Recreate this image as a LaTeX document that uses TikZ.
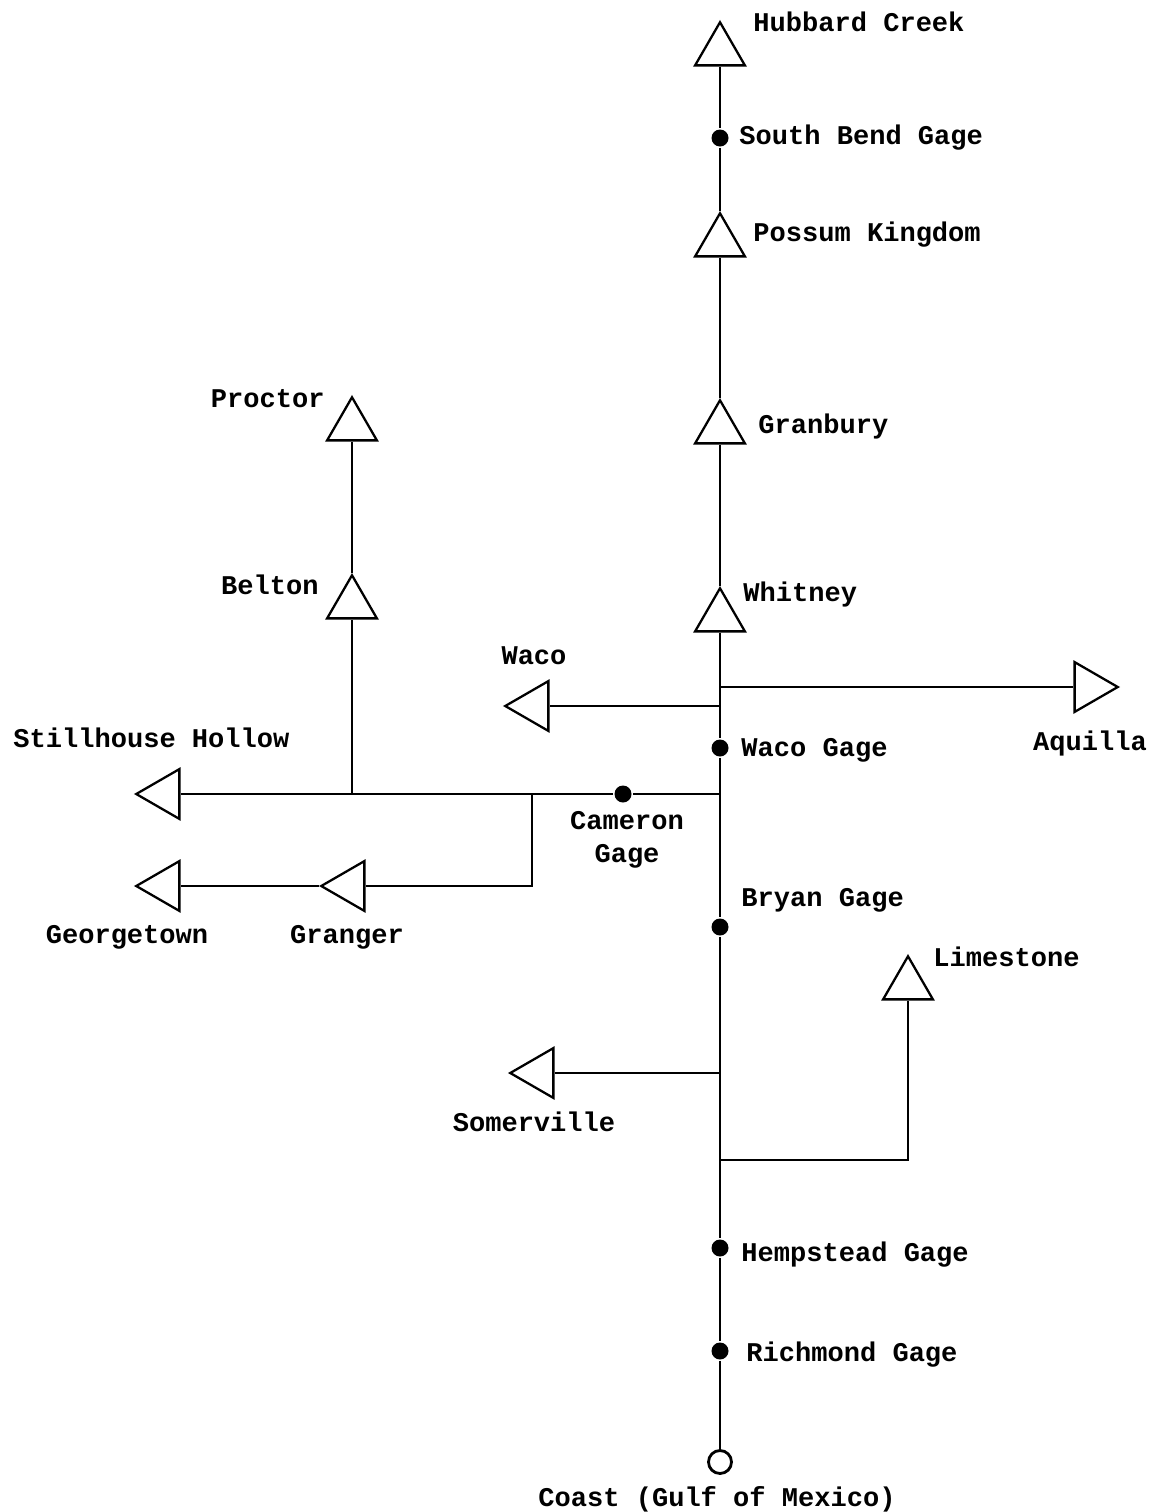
\documentclass[tikz,border=0pt]{standalone}
\usepackage{fontspec}
\setmonofont{Liberation Mono}
\usetikzlibrary{shapes.geometric,positioning}

\begin{document}
\begin{tikzpicture}[x=0.02cm, y=-0.02cm,
    font=\ttfamily\bfseries\fontsize{15.4pt}{20pt}\selectfont,
    line width=1.6pt,
    reservoir/.style={regular polygon, regular polygon sides=3, draw,
      fill=white, inner sep=0pt, minimum size=1.15cm, line width=1.3pt},
    gage/.style={circle, fill=black, inner sep=0pt, minimum size=0.34cm},
    outlet/.style={circle, draw, fill=white, inner sep=0pt, minimum size=0.46cm},
    lbl/.style={inner sep=0pt, text height=0.6em, text depth=0pt}]
  \useasboundingbox (0,0) rectangle (1158,1512);

  %% Brazos main stem
  \node[reservoir] (hubbard) at (720,51)  {};
  \node[gage]      (southbend) at (720,138) {};
  \node[reservoir] (possum)  at (720,242) {};
  \node[reservoir] (granbury) at (720,429) {};
  \node[reservoir] (whitney) at (720,617) {};
  \node[gage]      (wacog)   at (720,748) {};
  \node[gage]      (bryan)   at (720,927) {};
  \node[gage]      (hempstead) at (720,1248) {};
  \node[gage]      (richmond) at (720,1351) {};
  \node[outlet]    (coast)   at (720,1462) {};

  %% Junctions on the main stem
  \coordinate (jaquilla) at (720,687);
  \coordinate (jwaco)    at (720,706);
  \coordinate (jlittle)  at (720,794);
  \coordinate (jsomer)   at (720,1073);
  \coordinate (jlime)    at (720,1160);

  %% Tributary reservoirs
  \node[reservoir, rotate=-90] (aquilla) at (1089,687) {};
  \node[reservoir, rotate=90]  (waco)    at (534,706)  {};
  \node[reservoir, rotate=90]  (still)   at (165,794)  {};
  \node[reservoir, rotate=90]  (granger) at (350,886)  {};
  \node[reservoir, rotate=90]  (george)  at (165,886)  {};
  \node[reservoir, rotate=90]  (somer)   at (539,1073) {};
  \node[reservoir] (belton)  at (352,604) {};
  \node[reservoir] (proctor) at (352,426) {};
  \node[reservoir] (lime)    at (908,985) {};
  \node[gage]      (cameron) at (623,794) {};
  \coordinate (jbelton)  at (352,794);
  \coordinate (jgranger) at (532,794);

  %% Connectors
  \draw (hubbard) -- (southbend) -- (possum) -- (granbury) -- (whitney)
        -- (wacog) -- (bryan) -- (hempstead) -- (richmond) -- (coast);
  \draw (jaquilla) -- (aquilla);
  \draw (jwaco) -- (waco);
  \draw (jlittle) -- (cameron) -- (jgranger) -- (jbelton) -- (still);
  \draw (jbelton) -- (belton);
  \draw (belton) -- (proctor);
  \draw (jgranger) |- (granger);
  \draw (granger) -- (george);
  \draw (jsomer) -- (somer);
  \draw (jlime) -| (lime);

  %% Labels
  \node[lbl, anchor=west] (thubbard) at (752,26) {Hubbard Creek};
  \node[lbl, anchor=west] (tsouthbend) at (738,139) {South Bend Gage};
  \node[lbl, anchor=west] (tpossum) at (752,236) {Possum Kingdom};
  \node[lbl, anchor=west] (tgranbury) at (757,428) {Granbury};
  \node[lbl, anchor=west] (twhitney) at (742,596) {Whitney};
  \node[lbl] (twaco) at (534,659) {Waco};
  \node[lbl] (taquilla) at (1090,745) {Aquilla};
  \node[lbl, anchor=west] (twacog) at (740,751) {Waco Gage};
  \node[lbl, anchor=west] (tstill) at (12,742) {Stillhouse Hollow};
  \node[lbl] (tcameron) at (627,824) {Cameron};
  \node[lbl] (tcamgage) at (627,857) {Gage};
  \node[lbl, anchor=east] (tbelton) at (320,589) {Belton};
  \node[lbl, anchor=east] (tproctor) at (326,402) {Proctor};
  \node[lbl] (tgranger) at (347,938) {Granger};
  \node[lbl] (tgeorge) at (127,938) {Georgetown};
  \node[lbl, anchor=west] (tbryan) at (740,901) {Bryan Gage};
  \node[lbl, anchor=west] (tlime) at (932,961) {Limestone};
  \node[lbl] (tsomer) at (534,1126) {Somerville};
  \node[lbl, anchor=west] (themp) at (740,1256) {Hempstead Gage};
  \node[lbl, anchor=west] (trich) at (745,1356) {Richmond Gage};
  \node[lbl] (tcoast) at (717,1501) {Coast (Gulf of Mexico)};
\end{tikzpicture}
\end{document}
